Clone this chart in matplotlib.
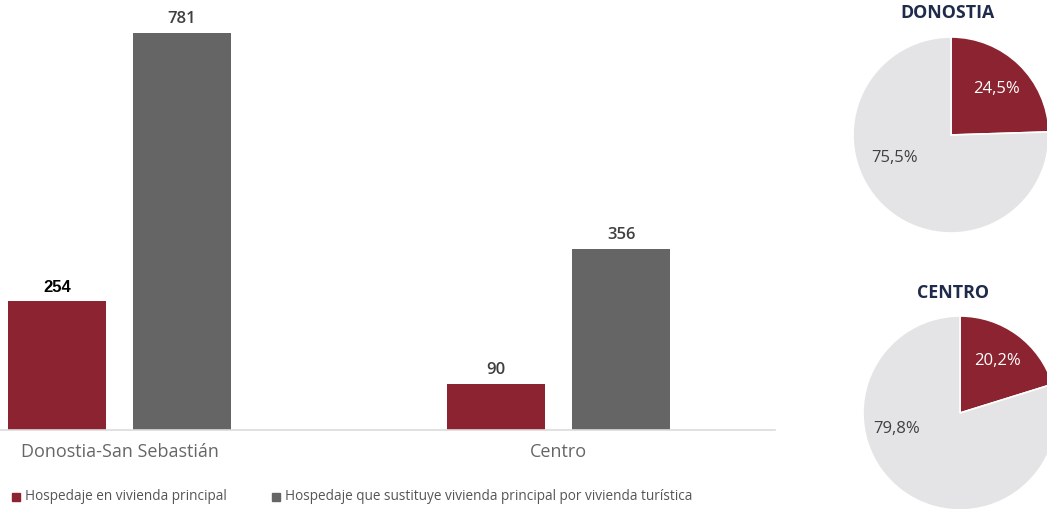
import numpy as np
import matplotlib.pyplot as plt

W, H = 1047, 509

# datos
zonas = ['Donostia-San Sebastián', 'Centro']
principal = [254, 90]
sustituye = [781, 356]
series = ['Hospedaje en vivienda principal',
          'Hospedaje que sustituye vivienda principal por vivienda turística']
pie_titulos = ['DONOSTIA', 'CENTRO']
pie_pct = [[24.5, 75.5], [20.2, 79.8]]

ROJO = '#8b2330'
GRIS = '#656565'
GRIS_CLARO = '#e4e4e6'
NAVY = '#1f2b4a'


def px_axes(fig, x0, y0, x1, y1):
    """axes from pixel box (top-left origin)"""
    return fig.add_axes([x0 / W, 1 - y1 / H, (x1 - x0) / W, (y1 - y0) / H])


fig = plt.figure(figsize=(W / 100, H / 100), dpi=100)
fig.patch.set_facecolor('white')

# --- barras ---
ax = px_axes(fig, 0, 0, 775, 430)
px_per_unit = 439.0
xmin = -119.5 / px_per_unit
ax.set_xlim(xmin, xmin + 775 / px_per_unit)
ax.set_ylim(0, 430 / 0.508)
x = np.arange(len(zonas))
bw = 98 / px_per_unit
off = 62.5 / px_per_unit
b1 = ax.bar(x - off, principal, bw, color=ROJO)
b2 = ax.bar(x + off, sustituye, bw, color=GRIS)
for s in ax.spines.values():
    s.set_visible(False)
ax.set_xticks([])
ax.set_yticks([])
ax.axhline(0, color='#dcdcdc', lw=1.2, clip_on=False)

for i, (r, v) in enumerate(zip(b1, principal)):
    if i == 0:
        ax.text(r.get_x() + r.get_width() / 2, v + 12, str(v), ha='center', va='bottom',
                fontsize=12, fontweight='bold', color='black', family='Liberation Sans')
    else:
        ax.text(r.get_x() + r.get_width() / 2, v + 12, str(v), ha='center', va='bottom',
                fontsize=12, fontweight='semibold', color='#404040', family='Open Sans')
for r, v in zip(b2, sustituye):
    ax.text(r.get_x() + r.get_width() / 2, v + 12, str(v), ha='center', va='bottom',
            fontsize=12, fontweight='semibold', color='#404040', family='Open Sans')

for i, z in enumerate(zonas):
    fig.text((119.5 + i * px_per_unit) / W, 1 - 452 / H, z, ha='center', va='center',
             fontsize=13, color='#666666', family='Open Sans')

# leyenda
ley_x = [12, 272]
for lx, c, s in zip(ley_x, [ROJO, GRIS], series):
    fig.patches.append(plt.Rectangle((lx / W, 1 - 501 / H), 8 / W, 8 / H,
                                     transform=fig.transFigure, color=c))
    fig.text((lx + 13) / W, 1 - 497 / H, s, ha='left', va='center',
             fontsize=9.8, color='#555555', family='Open Sans')

# --- tartas ---
centros = [(951, 135), (960, 413)]
radios = [98, 97]
titulo_y = [13, 293]
titulo_x = [947, 953]
pos_gris = [(202, 0.62), (194, 0.67)]
for k in range(2):
    cx, cy = centros[k]
    R = radios[k]
    half = 1.3 * R
    pax = px_axes(fig, cx - half, cy - half, cx + half, cy + half)
    wedges, texts, autot = pax.pie(pie_pct[k], colors=[ROJO, GRIS_CLARO], startangle=90,
                                   counterclock=False, autopct=lambda p: f'{p:.1f}%'.replace('.', ','),
                                   pctdistance=0.66,
                                   wedgeprops=dict(edgecolor='white', linewidth=1.2))
    pax.set_xlim(-1.3, 1.3)
    pax.set_ylim(-1.3, 1.3)
    pax.set_aspect('equal')
    autot[0].set_color('white')
    autot[0].set_fontsize(12)
    autot[0].set_family('Open Sans')
    ang, rr = pos_gris[k]
    autot[1].set_position((rr * np.cos(np.radians(ang)), rr * np.sin(np.radians(ang))))
    autot[1].set_color('#404040')
    autot[1].set_fontsize(12)
    autot[1].set_family('Open Sans')
    fig.text(titulo_x[k] / W, 1 - titulo_y[k] / H, pie_titulos[k], ha='center', va='center',
             fontsize=12.8, fontweight='bold', color=NAVY, family='Open Sans')

fig.savefig('out.png', dpi=100, facecolor='white')
